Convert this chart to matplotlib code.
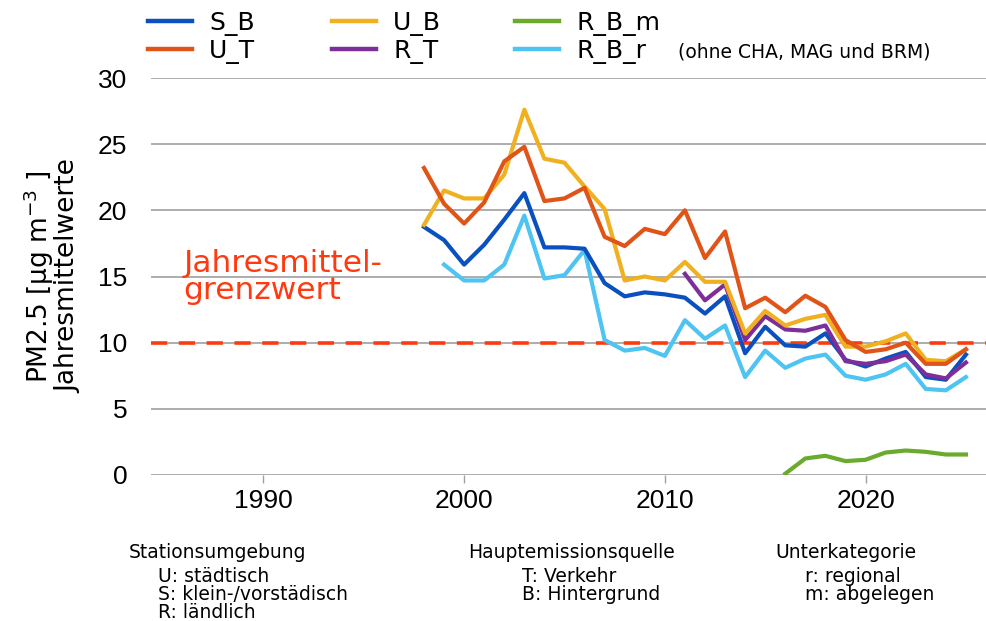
import matplotlib.pyplot as plt
from matplotlib.lines import Line2D

# Jahresmittelwerte PM2.5
years = list(range(1998, 2026))

S_B = [18.75, 17.75, 15.9, 17.4, 19.3, 21.3, 17.2, 17.2, 17.1, 14.5, 13.5, 13.8, 13.65, 13.4,
       12.2, 13.5, 9.2, 11.2, 9.8, 9.7, 10.7, 8.7, 8.2, 8.8, 9.3, 7.4, 7.2, 9.1]
U_T = [23.2, 20.5, 19.0, 20.6, 23.7, 24.8, 20.7, 20.9, 21.7, 18.0, 17.3, 18.6, 18.2, 20.0,
       16.4, 18.4, 12.6, 13.4, 12.3, 13.55, 12.7, 10.2, 9.3, 9.5, 10.0, 8.4, 8.4, 9.5]
U_B = [18.9, 21.5, 20.9, 20.9, 22.7, 27.6, 23.9, 23.6, 21.8, 20.1, 14.7, 15.0, 14.7, 16.1,
       14.6, 14.6, 10.7, 12.4, 11.3, 11.8, 12.1, 9.7, 9.7, 10.1, 10.7, 8.7, 8.6, 9.5]

years_RT = list(range(2011, 2026))
R_T = [15.2, 13.2, 14.4, 10.2, 12.0, 11.0, 10.9, 11.3, 8.6, 8.4, 8.6, 9.1, 7.6, 7.3, 8.5]

years_RBr = list(range(1999, 2026))
R_B_r = [15.9, 14.7, 14.7, 15.9, 19.6, 14.85, 15.1, 17.0, 10.2, 9.4, 9.6, 9.0, 11.7, 10.3,
         11.3, 7.4, 9.4, 8.1, 8.8, 9.1, 7.5, 7.2, 7.6, 8.4, 6.5, 6.4, 7.4]

years_RBm = list(range(2016, 2026))
R_B_m = [0.1, 1.25, 1.45, 1.05, 1.15, 1.7, 1.85, 1.75, 1.55, 1.55]

grenzwert = 10

colors = {
    "S_B": "#0a50bf",
    "U_T": "#e05418",
    "U_B": "#f0b020",
    "R_T": "#7d2e98",
    "R_B_r": "#4dc4f2",
    "R_B_m": "#6aab2e",
}

plt.rcParams['font.family'] = ['Liberation Sans', 'DejaVu Sans']

fig = plt.figure(figsize=(9.86, 6.21), dpi=100)
ax = fig.add_axes([151 / 986, 1 - 475 / 621, 1 - 151 / 986, (475 - 78) / 621])

lw = 3.0
ax.plot(years_RBm, R_B_m, color=colors["R_B_m"], lw=lw)
ax.plot(years_RBr, R_B_r, color=colors["R_B_r"], lw=lw)
ax.plot(years, S_B, color=colors["S_B"], lw=lw)
ax.plot(years_RT, R_T, color=colors["R_T"], lw=lw)
ax.plot(years, U_B, color=colors["U_B"], lw=lw)
ax.plot(years, U_T, color=colors["U_T"], lw=lw)

ax.axhline(grenzwert, color="#ff3a10", lw=2.6, dashes=(4.5, 3.2), zorder=1)
ax.text(1986.0, 14.95, "Jahresmittel-\ngrenzwert", color="#ff3a10", fontsize=22.5,
        family=['DejaVu Sans'], va='center', ha='left', linespacing=0.92)

ax.set_xlim(1984.4, 2026.0)
ax.set_ylim(0, 30)
ax.set_yticks(range(0, 31, 5))
ax.set_xticks([1990, 2000, 2010, 2020])
ax.yaxis.grid(True, color="#a0a0a0", lw=1.2, zorder=0)
ax.set_axisbelow(True)
for s in ax.spines.values():
    s.set_visible(False)
ax.tick_params(axis='y', length=0, pad=17, labelsize=19)
ax.tick_params(axis='x', length=6, width=1, color="#a0a0a0", pad=4, labelsize=19)

ax.set_ylabel("PM2.5 [µg m$^{-3}$ ]\nJahresmittelwerte", fontsize=19, labelpad=12,
              linespacing=0.98, family=['DejaVu Sans'])

# Legende in drei Spalten
def handle(name):
    return Line2D([], [], color=colors[name], lw=3.2)

leg_font = {'family': ['DejaVu Sans'], 'size': 18}
cols = [(148, ["S_B", "U_T"]), (332, ["U_B", "R_T"]), (515, ["R_B_m", "R_B_r"])]
for x0, names in cols:
    leg = fig.legend([handle(n) for n in names], names, loc='upper left',
                     bbox_to_anchor=(x0 / 986, 1 - 11 / 621), frameon=False, prop=leg_font,
                     handlelength=1.75, handletextpad=0.7, labelspacing=0.12,
                     borderpad=0, borderaxespad=0)
fig.text(678 / 986, 1 - 52 / 621, "(ohne CHA, MAG und BRM)", fontsize=13.5,
         family=['DejaVu Sans'], va='center', ha='left')

# Erklaerung unten
small = dict(fontsize=13.5, family=['DejaVu Sans'], ha='left', linespacing=0.95)
fig.text(129 / 986, 1 - 552 / 621, "Stationsumgebung", va='center', **small)
fig.text(158 / 986, 1 - 567 / 621, "U: städtisch\nS: klein-/vorstädisch\nR: ländlich",
         va='top', **small)
fig.text(468 / 986, 1 - 552 / 621, "Hauptemissionsquelle", va='center', **small)
fig.text(522 / 986, 1 - 567 / 621, "T: Verkehr\nB: Hintergrund", va='top', **small)
fig.text(775 / 986, 1 - 552 / 621, "Unterkategorie", va='center', **small)
fig.text(805 / 986, 1 - 567 / 621, "r: regional\nm: abgelegen", va='top', **small)

fig.savefig("out.png", dpi=100)
